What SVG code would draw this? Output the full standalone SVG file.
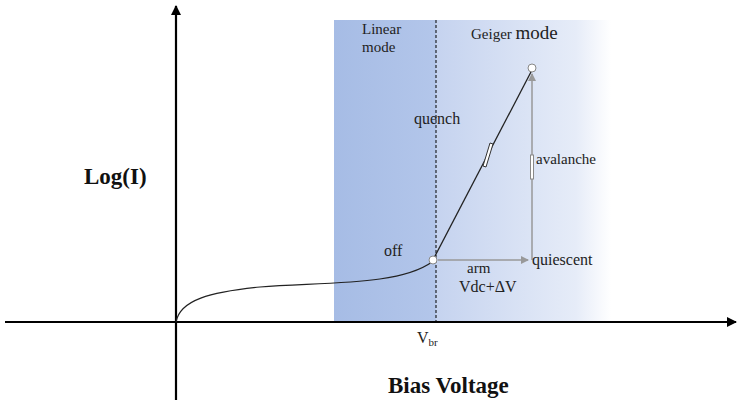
<svg xmlns="http://www.w3.org/2000/svg" width="742" height="412" viewBox="0 0 742 412">
<style>
.t{font-family:"Liberation Serif",serif;fill:#222}
.b{font-family:"Liberation Serif",serif;font-weight:bold;fill:#111}
.ax{stroke:#000;stroke-width:2.2;fill:none}
.g{stroke:#999;stroke-width:1.5;fill:none}
</style>
<defs>
<linearGradient id="lin" x1="0" x2="1"><stop offset="0" stop-color="#a6bce5"/><stop offset="1" stop-color="#b3c6ea"/></linearGradient>
<linearGradient id="gei" x1="0" x2="1"><stop offset="0" stop-color="#c5d3ef"/><stop offset="0.8" stop-color="#e6ecf8"/><stop offset="1" stop-color="#ffffff"/></linearGradient>
<marker id="ah" markerWidth="10" markerHeight="10" refX="9" refY="5" orient="auto" markerUnits="userSpaceOnUse"><path d="M0,0 L10,5 L0,10 Z" fill="#000"/></marker>
<marker id="gh" markerWidth="8" markerHeight="8" refX="7" refY="4" orient="auto" markerUnits="userSpaceOnUse"><path d="M0,0 L8,4 L0,8 Z" fill="#999"/></marker>
</defs>
<g id="regions">
<rect x="334" y="20" width="102" height="302" fill="url(#lin)"/>
<rect x="436" y="20" width="175" height="302" fill="url(#gei)"/>
<line x1="436" y1="20" x2="436" y2="322" stroke="#000" stroke-dasharray="3,2" stroke-width="1"/>
</g>
<g id="connectors">
<line class="ax" x1="176" y1="400" x2="176" y2="6" marker-end="url(#ah)"/>
<line class="ax" x1="5" y1="322" x2="736" y2="322" marker-end="url(#ah)"/>
<path d="M176,322 C180,300 210,292 260,287 C330,282 400,285 432,262" stroke="#222" stroke-width="1.2" fill="none"/>
<line x1="434" y1="258" x2="532" y2="70" stroke="#222" stroke-width="1.3"/>
<line class="g" x1="438" y1="260" x2="528" y2="260" marker-end="url(#gh)"/>
<line class="g" x1="532" y1="260" x2="532" y2="74" marker-end="url(#gh)"/>
<rect x="530.5" y="155" width="3" height="24" fill="#fff" stroke="#888" stroke-width="1"/>
<path d="M490,143 L483,166 L486,167 L493,144 Z" fill="#fff" stroke="#333" stroke-width="1"/>
</g>
<g id="off"><circle cx="433" cy="260" r="4" fill="#fff" stroke="#888"/><text class="t" x="384" y="256" font-size="16">off</text></g>
<g id="peak"><circle cx="532" cy="68" r="4" fill="#fff" stroke="#888"/></g>
<g id="labels">
<text class="t" x="362" y="34" font-size="15">Linear</text>
<text class="t" x="362" y="52" font-size="15">mode</text>
<text class="t" x="471" y="39" font-size="15">Geiger <tspan font-size="19">mode</tspan></text>
<text class="t" x="414" y="124" font-size="16">quench</text>
<text class="t" x="536" y="164" font-size="15">avalanche</text>
<text class="t" x="532" y="265" font-size="16">quiescent</text>
<text class="t" x="467" y="273" font-size="15">arm</text>
<text class="t" x="459" y="292" font-size="16">Vdc+ΔV</text>
<text class="t" x="417" y="343" font-size="16">V<tspan font-size="11" dy="3">br</tspan></text>
<text class="b" x="84" y="184" font-size="23">Log(I)</text>
<text class="b" x="388" y="393" font-size="23">Bias Voltage</text>
</g>
</svg>
